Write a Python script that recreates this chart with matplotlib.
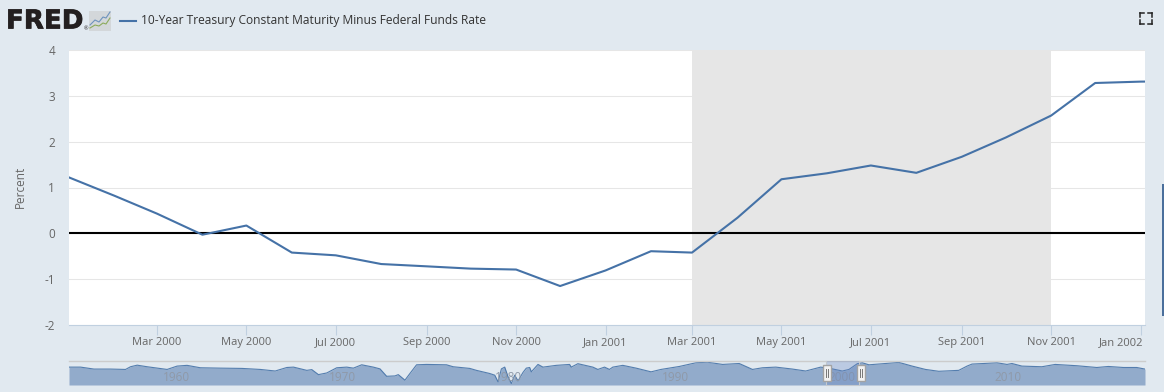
import pandas as pd
import matplotlib
matplotlib.use('Agg')
import matplotlib.pyplot as plt
import matplotlib.dates as mdates
import matplotlib.patheffects as pe
from matplotlib.patches import Rectangle
from matplotlib.lines import Line2D
from matplotlib.transforms import ScaledTranslation

# monthly values shown in the main chart
months = pd.date_range('2000-01-01', '2002-02-01', freq='MS')
spread = [1.22, 0.82, 0.43, -0.03, 0.17, -0.42, -0.48, -0.67, -0.72, -0.77, -0.79, -1.15,
          -0.81, -0.39, -0.42, 0.34, 1.18, 1.31, 1.48, 1.32, 1.67, 2.09, 2.57, 3.28,
          3.31, 3.32]

tick_dates = ['2000-03-01', '2000-05-01', '2000-07-01', '2000-09-01', '2000-11-01', '2001-01-01',
              '2001-03-01', '2001-05-01', '2001-07-01', '2001-09-01', '2001-11-01', '2002-01-01']
tick_labels = ['Mar 2000', 'May 2000', 'Jul 2000', 'Sep 2000', 'Nov 2000', 'Jan 2001',
               'Mar 2001', 'May 2001', 'Jul 2001', 'Sep 2001', 'Nov 2001', 'Jan 2002']
y_ticks = [-2, -1, 0, 1, 2, 3, 4]
recession = ['2001-03-01', '2001-11-01']

# whole history for the navigator strip
nav_years = [1954.5, 1955.2, 1956.0, 1957.0, 1957.9, 1958.2, 1958.6, 1959.2, 1960.4, 1961.0, 1961.6,
             1962.4, 1963.6, 1964.9, 1966.0, 1966.9, 1967.6, 1968.0, 1968.8, 1969.1, 1969.5, 1970.0,
             1970.6, 1971.2, 1971.6, 1972.1, 1972.8, 1973.2, 1973.6, 1974.1, 1974.3, 1974.7, 1975.0,
             1975.4, 1976.0, 1977.2, 1977.6, 1978.6, 1979.0, 1979.8, 1980.1, 1980.3, 1980.5, 1980.7,
             1980.9, 1981.1, 1981.3, 1981.5, 1981.8, 1982.0, 1982.2, 1982.3, 1982.7, 1983.0, 1983.8,
             1984.6, 1984.7, 1985.1, 1986.0, 1986.3, 1986.7, 1987.0, 1987.2, 1987.8, 1988.6, 1989.5,
             1990.1, 1991.2, 1992.2, 1992.9, 1993.8, 1994.8, 1995.6, 1996.2, 1997.0, 1998.0, 1998.8,
             1999.7, 2000.4, 2001.0, 2001.4, 2001.9, 2002.2, 2002.6, 2003.6, 2004.4, 2005.2, 2006.0,
             2006.8, 2008.0, 2008.5, 2008.8, 2009.5, 2010.3, 2010.9, 2011.2, 2011.8, 2013.0, 2013.8,
             2015.1, 2016.3, 2017.0, 2017.9, 2018.7, 2019.2]
nav_values = [0.95, 0.95, -0.1, -0.1, -0.3, 1.15, 2.0, 1.15, -0.3, 1.5, 1.9,
              0.6, 0.4, 0.25, -0.3, -1.15, 0.75, 0.95, -0.8, -0.4, -3.1, -2.2,
              0.6, 0.95, 0.4, 2.2, 0.95, 0.0, -4.0, -3.8, -3.1, -6.1, -2.5,
              2.2, 2.4, 2.2, 1.15, 0.25, -0.8, -2.5, -3.4, -7.0, 0.0, 0.95,
              -4.3, -7.9, -3.4, -6.5, -1.9, 0.4, 0.75, -1.6, 2.4, 0.95, 1.9,
              2.4, 0.95, 2.8, 0.95, -0.3, 0.95, -0.3, 0.95, 1.9, 0.4, -1.6,
              -0.3, 1.3, 3.3, 3.6, 2.4, 2.9, -0.3, 0.6, 0.95, -0.1, -1.15,
              0.95, 0.0, -1.15, -0.3, 2.8, 3.3, 2.2, 2.9, 3.5, 1.5, -0.3,
              -1.3, -0.8, 1.5, 2.6, 2.9, 3.3, 2.4, 2.9, 1.5, 1.15, 2.4,
              1.7, 0.75, 1.3, 0.75, 0.75, -0.1]
nav_label_years = [1960, 1970, 1980, 1990, 2000, 2010]

W, H = 1164, 392
BG = '#e1e9f0'
LINE = '#4572a7'

plt.rcParams['font.family'] = ['Open Sans', 'DejaVu Sans']
plt.rcParams['axes.unicode_minus'] = False


def box(left, top, right, bottom):
    # pixel box (from top left) to figure fractions
    return [left / W, 1 - bottom / H, (right - left) / W, (bottom - top) / H]


def fx(x):
    return x / W


def fy(y):
    return 1 - y / H


fig = plt.figure(figsize=(W / 100, H / 100), dpi=100, facecolor=BG)

# main chart
ax = fig.add_axes(box(69, 50, 1145, 325))
ax.set_facecolor('white')
ax.axvspan(pd.Timestamp(recession[0]), pd.Timestamp(recession[1]), color='#e6e6e6', lw=0, zorder=1)
ax.grid(axis='y', color='#e6e6e6', lw=0.75, zorder=0)
ax.axhline(0, color='black', lw=1.5, zorder=3)
ax.plot(months, spread, color=LINE, lw=1.5, zorder=4, solid_joinstyle='round')
ax.set_xlim(pd.Timestamp('2000-01-01'), pd.Timestamp('2002-01-04'))
ax.set_ylim(-2, 4)
ax.set_yticks(y_ticks)
ax.set_xticks([mdates.date2num(pd.Timestamp(d)) for d in tick_dates])
ax.set_xticklabels(tick_labels)
ax.tick_params(axis='x', length=7.2, width=0.8, color='#c0d0e0', labelsize=8, labelcolor='#666666', pad=1.5)
ax.tick_params(axis='y', length=0, labelsize=8.5, labelcolor='#666666', pad=10)
for name in ['top', 'left', 'right']:
    ax.spines[name].set_visible(False)
ax.spines['bottom'].set_color('#c0d0e0')
ax.spines['bottom'].set_linewidth(0.8)

# last label is pushed inside the plot edge
last = ax.get_xticklabels()[-1]
last.set_ha('right')
last.set_transform(last.get_transform() + ScaledTranslation(3 / 100, 0, fig.dpi_scale_trans))

fig.text(fx(20), fy(187), 'Percent', rotation=90, ha='center', va='center', fontsize=8.5, color='#666666')

# navigator strip
nav = fig.add_axes(box(69, 361, 1145, 385))
nav.patch.set_alpha(0)
nav.fill_between(nav_years, nav_values, -8.7, color='#92abcb', lw=0, zorder=1)
nav.plot(nav_years, nav_values, color=LINE, lw=0.8, alpha=0.9, zorder=2)
nav.set_xlim(1954.5, 2019.2)
nav.set_ylim(-8.7, 4.25)
nav.set_xticks([])
nav.set_yticks([])
for name in ['left', 'right', 'bottom']:
    nav.spines[name].set_visible(False)
nav.spines['top'].set_color('#cccccc')
nav.spines['top'].set_linewidth(1)
for yr in nav_label_years:
    nav.text(yr + 0.95, -4.9, str(yr), ha='center', va='center', fontsize=8.5, color='#8f99a8', zorder=3)
nav.add_patch(Rectangle((2000, -8.7), 2, 12.95, facecolor='#6685c2', alpha=0.3, lw=0, zorder=4))
nav.plot([2000, 2000, 2002, 2002], [4.25, -8.9, -8.9, 4.25], color='#c4c9cf', lw=0.8, clip_on=False, zorder=4)

# navigator handles
for hx in [826.5, 860.5]:
    fig.add_artist(Rectangle((fx(hx - 4), fy(381)), 8 / W, 16 / H, facecolor='#f2f2f2',
                             edgecolor='#a3a3a3', lw=1, transform=fig.transFigure, zorder=6))
    for dx in [-1, 1]:
        fig.add_artist(Line2D([fx(hx + dx)] * 2, [fy(377), fy(369)], color='#777777', lw=0.7, zorder=7))

# header: logo and legend
fig.text(fx(6), fy(21.5), 'FRED', fontsize=18.8, fontweight='bold', family='DejaVu Sans',
         color='#231f20', va='center', ha='left',
         path_effects=[pe.withStroke(linewidth=0.5, foreground='#231f20')])
fig.text(fx(84), fy(29), '\u00ae', fontsize=4, color='#231f20', va='center', ha='left')
fig.add_artist(Rectangle((fx(89), fy(31)), 22 / W, 20 / H, facecolor='#d3d7da', edgecolor='none',
                         transform=fig.transFigure))
fig.add_artist(Line2D([fx(v) for v in [90, 95, 99, 103, 106, 110]], [fy(v) for v in [25, 20, 22, 17, 18, 12]],
                      color='#6d93bd', lw=0.8))
fig.add_artist(Line2D([fx(v) for v in [90, 95, 99, 103, 106, 110]], [fy(v) for v in [28, 25, 26, 23, 24, 18]],
                      color='#8cab5c', lw=0.8))
fig.add_artist(Line2D([fx(120), fx(136)], [fy(20.5), fy(20.5)], color=LINE, lw=1.5))
fig.text(fx(141), fy(20.5), '10-Year Treasury Constant Maturity Minus Federal Funds Rate',
         fontsize=8.67, color='#333333', va='center', ha='left')

# fullscreen icon top right
corners = [(1140, 1144, 13), (1152, 1148, 13), (1140, 1144, 24), (1152, 1148, 24)]
for x0, x1, yy in corners:
    fig.add_artist(Line2D([fx(x0), fx(x1)], [fy(yy), fy(yy)], color='#222222', lw=1.1))
    y1 = yy + 4 if yy == 13 else yy - 4
    fig.add_artist(Line2D([fx(x0), fx(x0)], [fy(yy), fy(y1)], color='#222222', lw=1.1))

# page scrollbar at the right edge
fig.add_artist(Rectangle((fx(1162), fy(316)), 2 / W, 132 / H, facecolor='#4a6f9c', edgecolor='none',
                         transform=fig.transFigure))

fig.savefig('out.png', dpi=100, facecolor=BG)
